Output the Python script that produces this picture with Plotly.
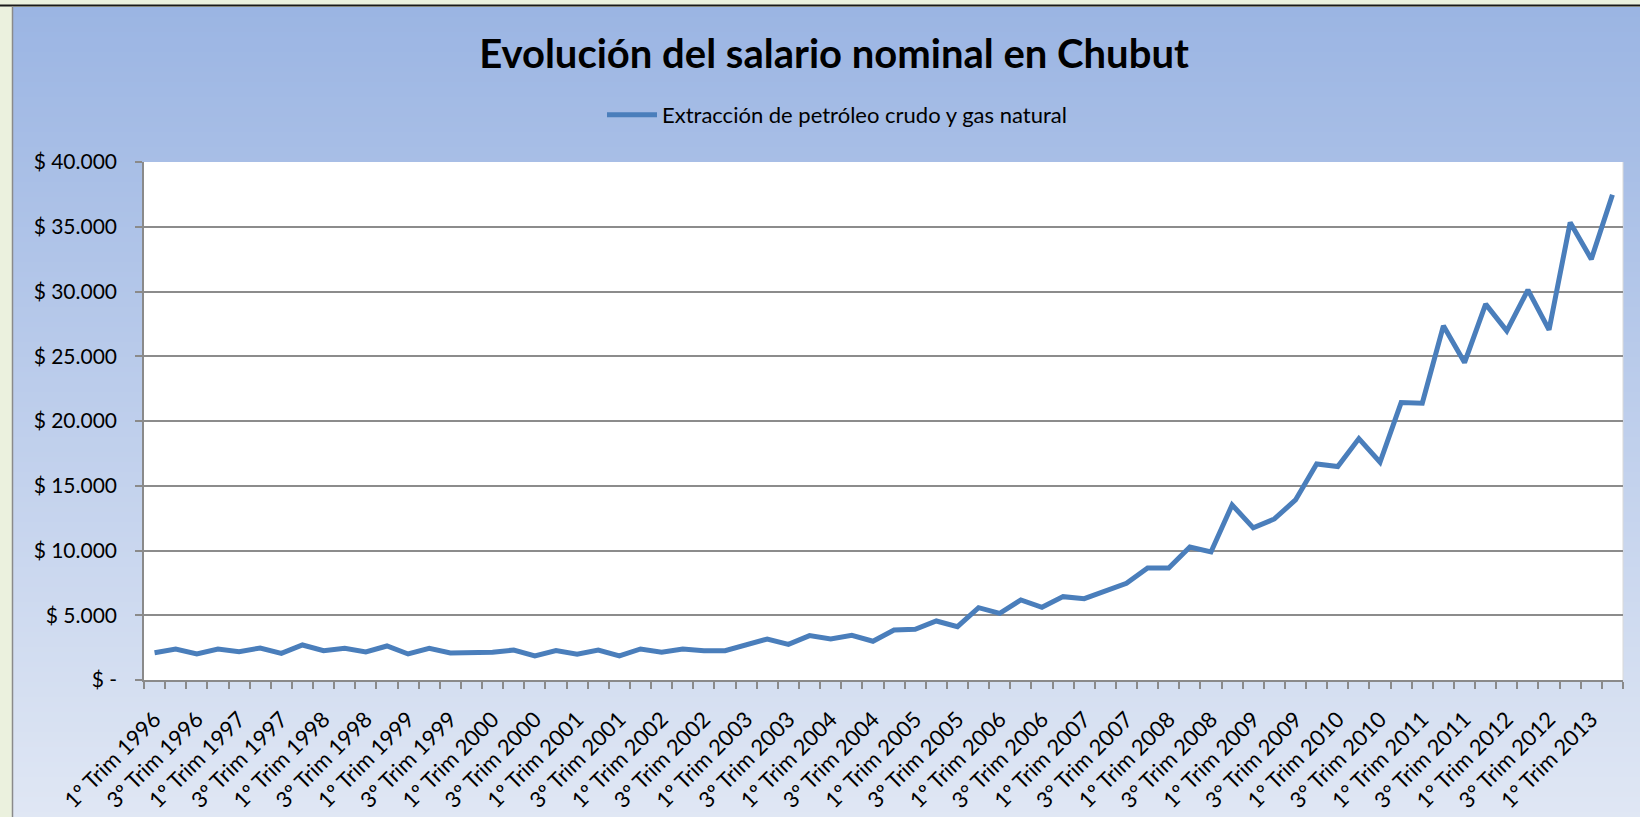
import plotly.graph_objects as go

# ---------------- data ----------------
years = list(range(1996, 2014))
quarters = ["1º", "2º", "3º", "4º"]
categories = [f"{q} Trim {y}" for y in years for q in quarters][:70]  # 1º Trim 1996 .. 2º Trim 2013

tick_labels = [
    "1º Trim 1996", "3º Trim 1996", "1º Trim 1997", "3º Trim 1997", "1º Trim 1998",
    "3º Trim 1998", "1º Trim 1999", "3º Trim 1999", "1º Trim 2000", "3º Trim 2000",
    "1º Trim 2001", "3º Trim 2001", "1º Trim 2002", "3º Trim 2002", "1º Trim 2003",
    "3º Trim 2003", "1º Trim 2004", "3º Trim 2004", "1º Trim 2005", "3º Trim 2005",
    "1º Trim 2006", "3° Trim 2006", "1º Trim 2007", "3° Trim 2007", "1º Trim 2008",
    "3° Trim 2008", "1º Trim 2009", "3° Trim 2009", "1° Trim 2010", "3° Trim 2010",
    "1° Trim 2011", "3° Trim 2011", "1° Trim 2012", "3° Trim 2012", "1° Trim 2013",
]

salario = [
    2109, 2395, 2008, 2395, 2189, 2472, 2060, 2704, 2266, 2446,
    2163, 2627, 2008, 2446, 2086, 2137, 2137, 2318, 1854, 2266,
    1983, 2318, 1854, 2395, 2137, 2395, 2266, 2266, 2755, 3167,
    2755, 3425, 3167, 3450, 2990, 3863, 3914, 4558, 4120, 5587,
    5150, 6180, 5613, 6437, 6283, 6901, 7468, 8652, 8652, 10274,
    9888, 13519, 11750, 12438, 13905, 16686, 16480, 18643, 16814, 21425,
    21373, 27347, 24514, 29023, 26960, 30128, 27038, 35327, 32499, 37466,
]

y_ticks = [0, 5000, 10000, 15000, 20000, 25000, 30000, 35000, 40000]
y_tick_text = ["$ -", "$ 5.000", "$ 10.000", "$ 15.000", "$ 20.000",
               "$ 25.000", "$ 30.000", "$ 35.000", "$ 40.000"]

series_name = "Extracción de petróleo crudo y gas natural"
title_text = "Evolución del salario nominal en Chubut"

# ---------------- layout geometry ----------------
W, H = 1640, 817
ML, MR, MT, MB = 144, 17, 162, 137
PW = W - ML - MR
PH = H - MT - MB

def px(x):
    return (x - ML) / PW

def py(y):
    return (H - MB - y) / PH

# x tick texts: label every other category
x_ticktext = []
li = 0
for i, c in enumerate(categories):
    if i % 2 == 0:
        x_ticktext.append(tick_labels[li])
        li += 1
    else:
        x_ticktext.append("")

fig = go.Figure()
fig.add_trace(go.Scatter(
    x=categories, y=salario, mode="lines", name=series_name,
    line=dict(color="#4A7EBB", width=5),
))

# background: green frame + blue vertical gradient
shapes = []
top_col = (155, 181, 227)
bot_col = (224, 231, 244)
y_start, y_end = 7, H
band = 5
n = (y_end - y_start) // band + 1
for k in range(n):
    y0 = y_start + k * band
    y1 = min(y0 + band + 1, H)
    t = (y0 - y_start) / (y_end - y_start)
    col = tuple(round(a + (b - a) * t) for a, b in zip(top_col, bot_col))
    shapes.append(dict(type="rect", xref="paper", yref="paper",
                       x0=px(13), x1=px(W + 2), y0=py(y1), y1=py(y0),
                       fillcolor="rgb(%d,%d,%d)" % col, line=dict(width=0),
                       layer="below"))
# plot area white
shapes.append(dict(type="rect", xref="paper", yref="paper", x0=0, x1=1, y0=0, y1=1,
                   fillcolor="white", line=dict(width=0), layer="below"))
# frame lines
shapes.append(dict(type="line", xref="paper", yref="paper", x0=px(0), x1=px(W + 2),
                   y0=py(5.5), y1=py(5.5), line=dict(color="#1a1a1a", width=2), layer="below"))
shapes.append(dict(type="line", xref="paper", yref="paper", x0=px(12.5), x1=px(12.5),
                   y0=py(6), y1=py(H + 2), line=dict(color="#8a8a8a", width=1.5), layer="below"))
# right border of plot area
shapes.append(dict(type="line", xref="paper", yref="paper", x0=1, x1=1, y0=0, y1=1,
                   line=dict(color="#d9d9d9", width=1), layer="below"))

fig.update_layout(
    width=W, height=H,
    margin=dict(l=ML, r=MR, t=MT, b=MB, autoexpand=False),
    paper_bgcolor="#EBF1DE",
    plot_bgcolor="white",
    font=dict(family="Lato", color="black"),
    title=dict(text=title_text, x=834 / W, xref="container", xanchor="center",
               y=1 - 54 / H, yref="container", yanchor="middle",
               font=dict(family="Lato", size=40, weight="bold", color="black")),
    showlegend=True,
    legend=dict(orientation="h", xref="container", yref="container",
                x=837 / W, xanchor="center", y=1 - 115 / H, yanchor="middle",
                bgcolor="rgba(0,0,0,0)", font=dict(family="Lato", size=22, color="black"),
                itemwidth=50),
    shapes=shapes,
    hovermode="x",
)

fig.update_xaxes(
    type="category", categoryorder="array", categoryarray=categories,
    tickmode="array", tickvals=categories, ticktext=x_ticktext,
    tickson="boundaries", ticks="outside", ticklen=7, tickwidth=1.5, tickcolor="#8a8a8a",
    tickangle=-45, tickfont=dict(family="Lato", size=22, color="black"),
    ticklabelstandoff=16,
    showline=True, linecolor="#8a8a8a", linewidth=1.5,
    showgrid=False, zeroline=False, automargin=False,
    range=[-0.5, len(categories) - 0.5],
)
fig.update_yaxes(
    range=[0, 40000], tickmode="array", tickvals=y_ticks, ticktext=y_tick_text,
    ticks="outside", ticklen=7, tickwidth=1.5, tickcolor="#8a8a8a",
    tickfont=dict(family="Lato", size=21, color="black"), ticklabelstandoff=14,
    showline=True, linecolor="#8a8a8a", linewidth=1.5,
    showgrid=True, gridcolor="#8c8c8c", gridwidth=1.5,
    zeroline=False, automargin=False,
)

fig.write_html("out.html", config={"displayModeBar": False},
               post_script="document.body.style.margin='0';")
